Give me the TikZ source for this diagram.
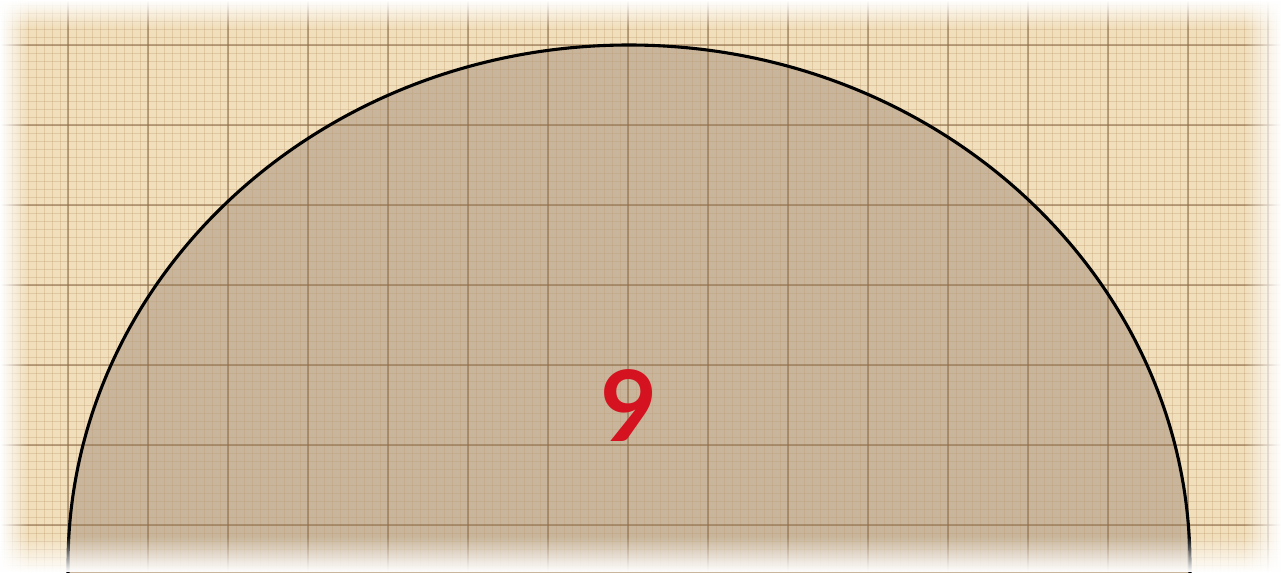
\documentclass[tikz,border=0pt]{standalone}
\usepackage{fontspec}
\newfontfamily\digitfont{Lato}
\usetikzlibrary{fadings}
\definecolor{paper}{RGB}{241,222,186}
\definecolor{shadearea}{RGB}{200,181,155}
\definecolor{gridmajor}{RGB}{140,108,72}
\definecolor{gridminor}{RGB}{190,160,120}
\definecolor{ninered}{RGB}{212,18,32}
\tikzfading[name=edge l, left color=transparent!0, right color=transparent!100]
\tikzfading[name=edge r, left color=transparent!100, right color=transparent!0]
\tikzfading[name=edge t, top color=transparent!0, bottom color=transparent!100]
\tikzfading[name=edge b, top color=transparent!100, bottom color=transparent!0]

\begin{document}
\begin{tikzpicture}[x=1cm,y=1cm,
  minor/.style={gridminor,line width=0.3pt,opacity=0.35},
  major/.style={gridmajor,line width=0.9pt,opacity=0.55},
  rim/.style={draw=black,line width=1.1pt},
  lab/.style={font=\digitfont\bfseries\fontsize{35}{35}\selectfont,text=ninered,inner sep=0pt}]
  \useasboundingbox (0,0) rectangle (16.0125,7.15);
  \fill[paper] (0,0) rectangle (16.0125,7.15);
  % the shaded half disc
  \coordinate (left) at (0.85,0.0875);
  \coordinate (right) at (14.875,0.0875);
  \fill[shadearea] (0.85,-0.2) -- (left) arc[start angle=180,end angle=0,x
  radius=7.0125,y radius=6.5] -- (14.875,-0.2) -- cycle;
  % graph paper
  \foreach \i in {0,...,160} \draw[minor] ({0.05+0.1*\i},0) -- ++(0,7.15);
  \foreach \j in {0,...,70} \draw[minor] (0,{0.0875+0.1*\j}) -- ++(16.0125,0);
  \foreach \i in {0,...,15} \draw[major] ({0.85+\i},0) -- ++(0,7.15);
  \foreach \j in {0,...,6} \draw[major] (0,{0.5875+\j}) -- ++(16.0125,0);
  \draw[rim] (0.85,-0.2) -- (left) arc[start angle=180,end angle=0,x
  radius=7.0125,y radius=6.5] -- (14.875,-0.2);
  \node[lab] (nine) at (7.8625,2.08) {9};
  % faded paper edges
  \fill[white,path fading=edge l] (0,0) rectangle (0.35,7.15);
  \fill[white,path fading=edge r] (15.55,0) rectangle (16.0125,7.15);
  \fill[white,path fading=edge t] (0,6.8) rectangle (16.0125,7.15);
  \fill[white,path fading=edge b] (0,0) rectangle (16.0125,0.45);
\end{tikzpicture}
\end{document}
